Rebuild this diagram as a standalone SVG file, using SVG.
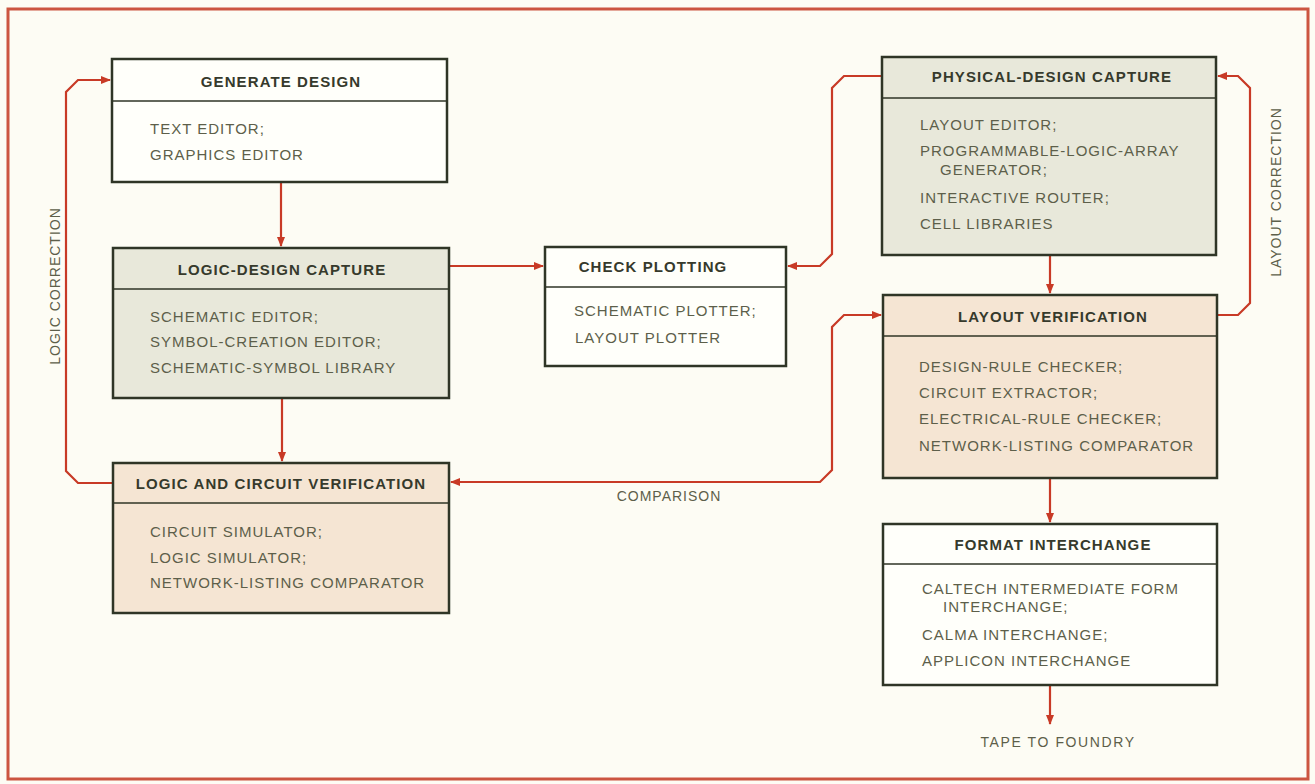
<svg xmlns="http://www.w3.org/2000/svg" width="1315" height="784" viewBox="0 0 1315 784">
<defs>
<marker id="ah" viewBox="0 0 10 10" refX="9" refY="5" markerWidth="10" markerHeight="10" markerUnits="userSpaceOnUse" orient="auto-start-reverse">
<path d="M0,1 L10,5 L0,9 z" fill="#c83a26"/>
</marker>
<style>
.box{stroke:#2f3526;stroke-width:2.5}
.div{stroke:#2f3526;stroke-width:1.5}
.white{fill:#fffffa}
.green{fill:#e8e8da}
.peach{fill:#f5e5d3}
.hd{font-family:"Liberation Sans",Arial,sans-serif;font-weight:bold;font-size:15px;fill:#363a2c;text-anchor:middle;letter-spacing:1.1px}
.bd{font-family:"Liberation Sans",Arial,sans-serif;font-size:15px;fill:#5d5f4a;letter-spacing:1px}
.lbl{font-family:"Liberation Sans",Arial,sans-serif;font-size:14px;fill:#5d5f4a;letter-spacing:1px;text-anchor:middle}
.con{fill:none;stroke:#c83a26;stroke-width:2.2}
</style>
</defs>
<rect x="0" y="0" width="1315" height="784" fill="#fdfcf4"/>
<rect x="8" y="9" width="1300" height="770" fill="none" stroke="#cc5540" stroke-width="3"/>

<g id="connectors">
<path class="con" d="M281,182 V246" marker-end="url(#ah)"/>
<path class="con" d="M449,266 H543" marker-end="url(#ah)"/>
<path class="con" d="M882,76 H844 L832,88 V254 L820,266 H788" marker-end="url(#ah)"/>
<path class="con" d="M282,398 V461" marker-end="url(#ah)"/>
<path class="con" d="M113,483 H78 L66,471 V92 L78,80 H110" marker-end="url(#ah)"/>
<path class="con" d="M1050,255 V293" marker-end="url(#ah)"/>
<path class="con" d="M1217,315 H1238 L1250,303 V88 L1238,76 H1218" marker-end="url(#ah)"/>
<path class="con" d="M451,482 H820 L832,470 V327 L844,315 H881" marker-start="url(#ah)" marker-end="url(#ah)"/>
<path class="con" d="M1050,478 V522" marker-end="url(#ah)"/>
<path class="con" d="M1050,685 V724" marker-end="url(#ah)"/>
<text class="lbl" x="669" y="501">COMPARISON</text>
<text class="lbl" x="1058" y="747" style="letter-spacing:1.6px">TAPE TO FOUNDRY</text>
<text class="lbl" transform="translate(60,286) rotate(-90)">LOGIC CORRECTION</text>
<text class="lbl" transform="translate(1281,192) rotate(-90)">LAYOUT CORRECTION</text>
</g>

<g id="generate-design">
<rect class="box white" x="112" y="59" width="335" height="123"/>
<line class="div" x1="112" y1="101" x2="447" y2="101"/>
<text class="hd" x="281" y="87">GENERATE DESIGN</text>
<text class="bd" x="150" y="134">TEXT EDITOR;</text>
<text class="bd" x="150" y="160">GRAPHICS EDITOR</text>
</g>

<g id="logic-design-capture">
<rect class="box green" x="113" y="248" width="336" height="150"/>
<line class="div" x1="113" y1="289" x2="449" y2="289"/>
<text class="hd" x="282" y="275">LOGIC-DESIGN CAPTURE</text>
<text class="bd" x="150" y="322">SCHEMATIC EDITOR;</text>
<text class="bd" x="150" y="347">SYMBOL-CREATION EDITOR;</text>
<text class="bd" x="150" y="373">SCHEMATIC-SYMBOL LIBRARY</text>
</g>

<g id="logic-circuit-verification">
<rect class="box peach" x="113" y="463" width="336" height="150"/>
<line class="div" x1="113" y1="503" x2="449" y2="503"/>
<text class="hd" x="281" y="489">LOGIC AND CIRCUIT VERIFICATION</text>
<text class="bd" x="150" y="537">CIRCUIT SIMULATOR;</text>
<text class="bd" x="150" y="563">LOGIC SIMULATOR;</text>
<text class="bd" x="150" y="588">NETWORK-LISTING COMPARATOR</text>
</g>

<g id="check-plotting">
<rect class="box white" x="545" y="247" width="241" height="119"/>
<line class="div" x1="545" y1="287" x2="786" y2="287"/>
<text class="hd" x="653" y="272">CHECK PLOTTING</text>
<text class="bd" x="574" y="316">SCHEMATIC PLOTTER;</text>
<text class="bd" x="575" y="343">LAYOUT PLOTTER</text>
</g>

<g id="physical-design-capture">
<rect class="box green" x="882" y="57" width="334" height="198"/>
<line class="div" x1="882" y1="98" x2="1216" y2="98"/>
<text class="hd" x="1052" y="82">PHYSICAL-DESIGN CAPTURE</text>
<text class="bd" x="920" y="130">LAYOUT EDITOR;</text>
<text class="bd" x="920" y="156">PROGRAMMABLE-LOGIC-ARRAY</text>
<text class="bd" x="940" y="175">GENERATOR;</text>
<text class="bd" x="920" y="203">INTERACTIVE ROUTER;</text>
<text class="bd" x="920" y="229">CELL LIBRARIES</text>
</g>

<g id="layout-verification">
<rect class="box peach" x="883" y="295" width="334" height="183"/>
<line class="div" x1="883" y1="336" x2="1217" y2="336"/>
<text class="hd" x="1053" y="322">LAYOUT VERIFICATION</text>
<text class="bd" x="919" y="372">DESIGN-RULE CHECKER;</text>
<text class="bd" x="919" y="398">CIRCUIT EXTRACTOR;</text>
<text class="bd" x="919" y="424">ELECTRICAL-RULE CHECKER;</text>
<text class="bd" x="919" y="451">NETWORK-LISTING COMPARATOR</text>
</g>

<g id="format-interchange">
<rect class="box white" x="883" y="524" width="334" height="161"/>
<line class="div" x1="883" y1="564" x2="1217" y2="564"/>
<text class="hd" x="1053" y="550">FORMAT INTERCHANGE</text>
<text class="bd" x="922" y="594">CALTECH INTERMEDIATE FORM</text>
<text class="bd" x="943" y="612">INTERCHANGE;</text>
<text class="bd" x="922" y="640">CALMA INTERCHANGE;</text>
<text class="bd" x="922" y="666">APPLICON INTERCHANGE</text>
</g>
</svg>
